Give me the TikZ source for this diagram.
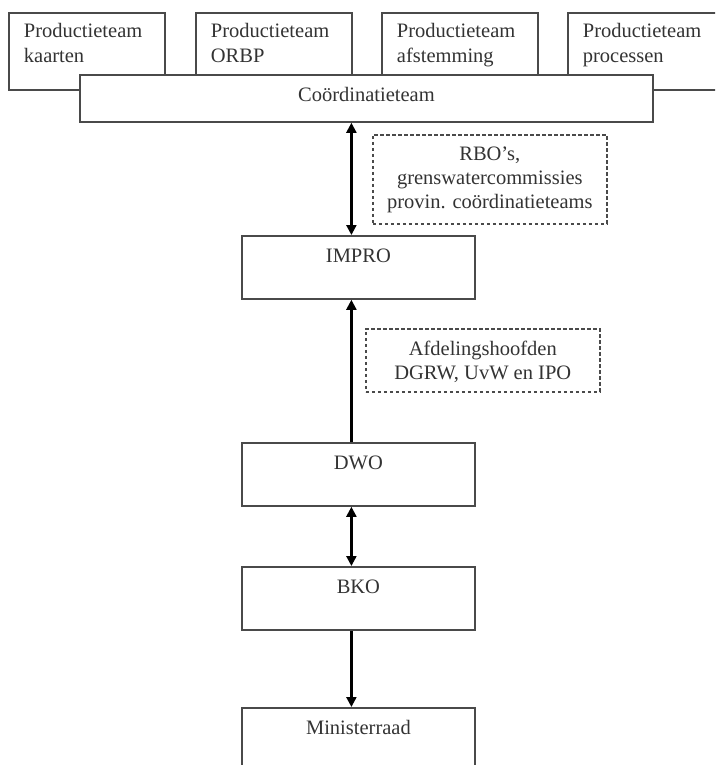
\documentclass[tikz,border=0pt]{standalone}
\usepackage{fontspec}
\setmainfont{Liberation Serif}
\usetikzlibrary{arrows.meta}
\definecolor{linegray}{HTML}{4A4A4A}
\definecolor{textgray}{HTML}{333333}
\begin{document}
\begin{tikzpicture}[x=1pt,y=-1pt,
  box/.style={draw=linegray, line width=1.8pt, fill=white, inner sep=0pt, anchor=north west, text=textgray, font=\fontsize{20.5}{25}\selectfont},
  teambox/.style={box, minimum width=156pt, text height=25pt, text depth=52pt},
  mainbox/.style={box, minimum width=233pt, text height=26.5pt, text depth=36.5pt},
  notebox/.style={draw=linegray, dashed, dash pattern=on 3.5pt off 2.5pt, line width=1.6pt, inner sep=0pt, anchor=north west, text=textgray, font=\fontsize{20.5}{24}\selectfont},
  arr/.style={draw=black, line width=2.2pt, -{Triangle[length=10pt,width=10pt]}},
  dbl/.style={draw=black, line width=2.2pt, {Triangle[length=10pt,width=10pt]}-{Triangle[length=10pt,width=10pt]}}
]
\useasboundingbox (0,0) rectangle (715,765);
\clip (0,0) rectangle (715,765);
\fill[white] (0,0) rectangle (715,765);

\node[teambox] (t1) at (8,12) {\parbox[t]{156pt}{\leftskip=15pt Productieteam\\kaarten}};
\node[teambox] (t2) at (195,12) {\parbox[t]{156pt}{\leftskip=15pt Productieteam\\ORBP}};
\node[teambox] (t3) at (381,12) {\parbox[t]{156pt}{\leftskip=15pt Productieteam\\afstemming}};
\node[teambox] (t4) at (567,12) {\parbox[t]{156pt}{\leftskip=15pt Productieteam\\processen}};

\node[box, minimum width=573pt, text height=27pt, text depth=20pt] (coord) at (79,74) {Coördinatieteam};

\node[mainbox] (impro) at (241,235) {IMPRO};
\node[mainbox] (dwo) at (241,442) {DWO};
\node[mainbox] (bko) at (241,566) {BKO};
\node[mainbox] (mr) at (241,707) {Ministerraad};

\node[notebox, text height=26pt, text depth=63pt] (n1) at (372,134)
  {\parbox[t]{234pt}{\centering RBO’s,\\grenswatercommissies\\provin. coördinatieteams}};
\node[notebox, text height=27pt, text depth=36pt] (n2) at (365,328)
  {\parbox[t]{234pt}{\centering Afdelingshoofden\\DGRW, UvW en IPO}};

\draw[dbl] ([xshift=-7pt]impro.north) -- ([xshift=-7pt]impro.north |- coord.south);
\draw[arr] ([xshift=-7pt]dwo.north) -- ([xshift=-7pt]impro.south);
\draw[dbl] ([xshift=-7pt]dwo.south) -- ([xshift=-7pt]bko.north);
\draw[arr] ([xshift=-7pt]bko.south) -- ([xshift=-7pt]mr.north);
\end{tikzpicture}
\end{document}
